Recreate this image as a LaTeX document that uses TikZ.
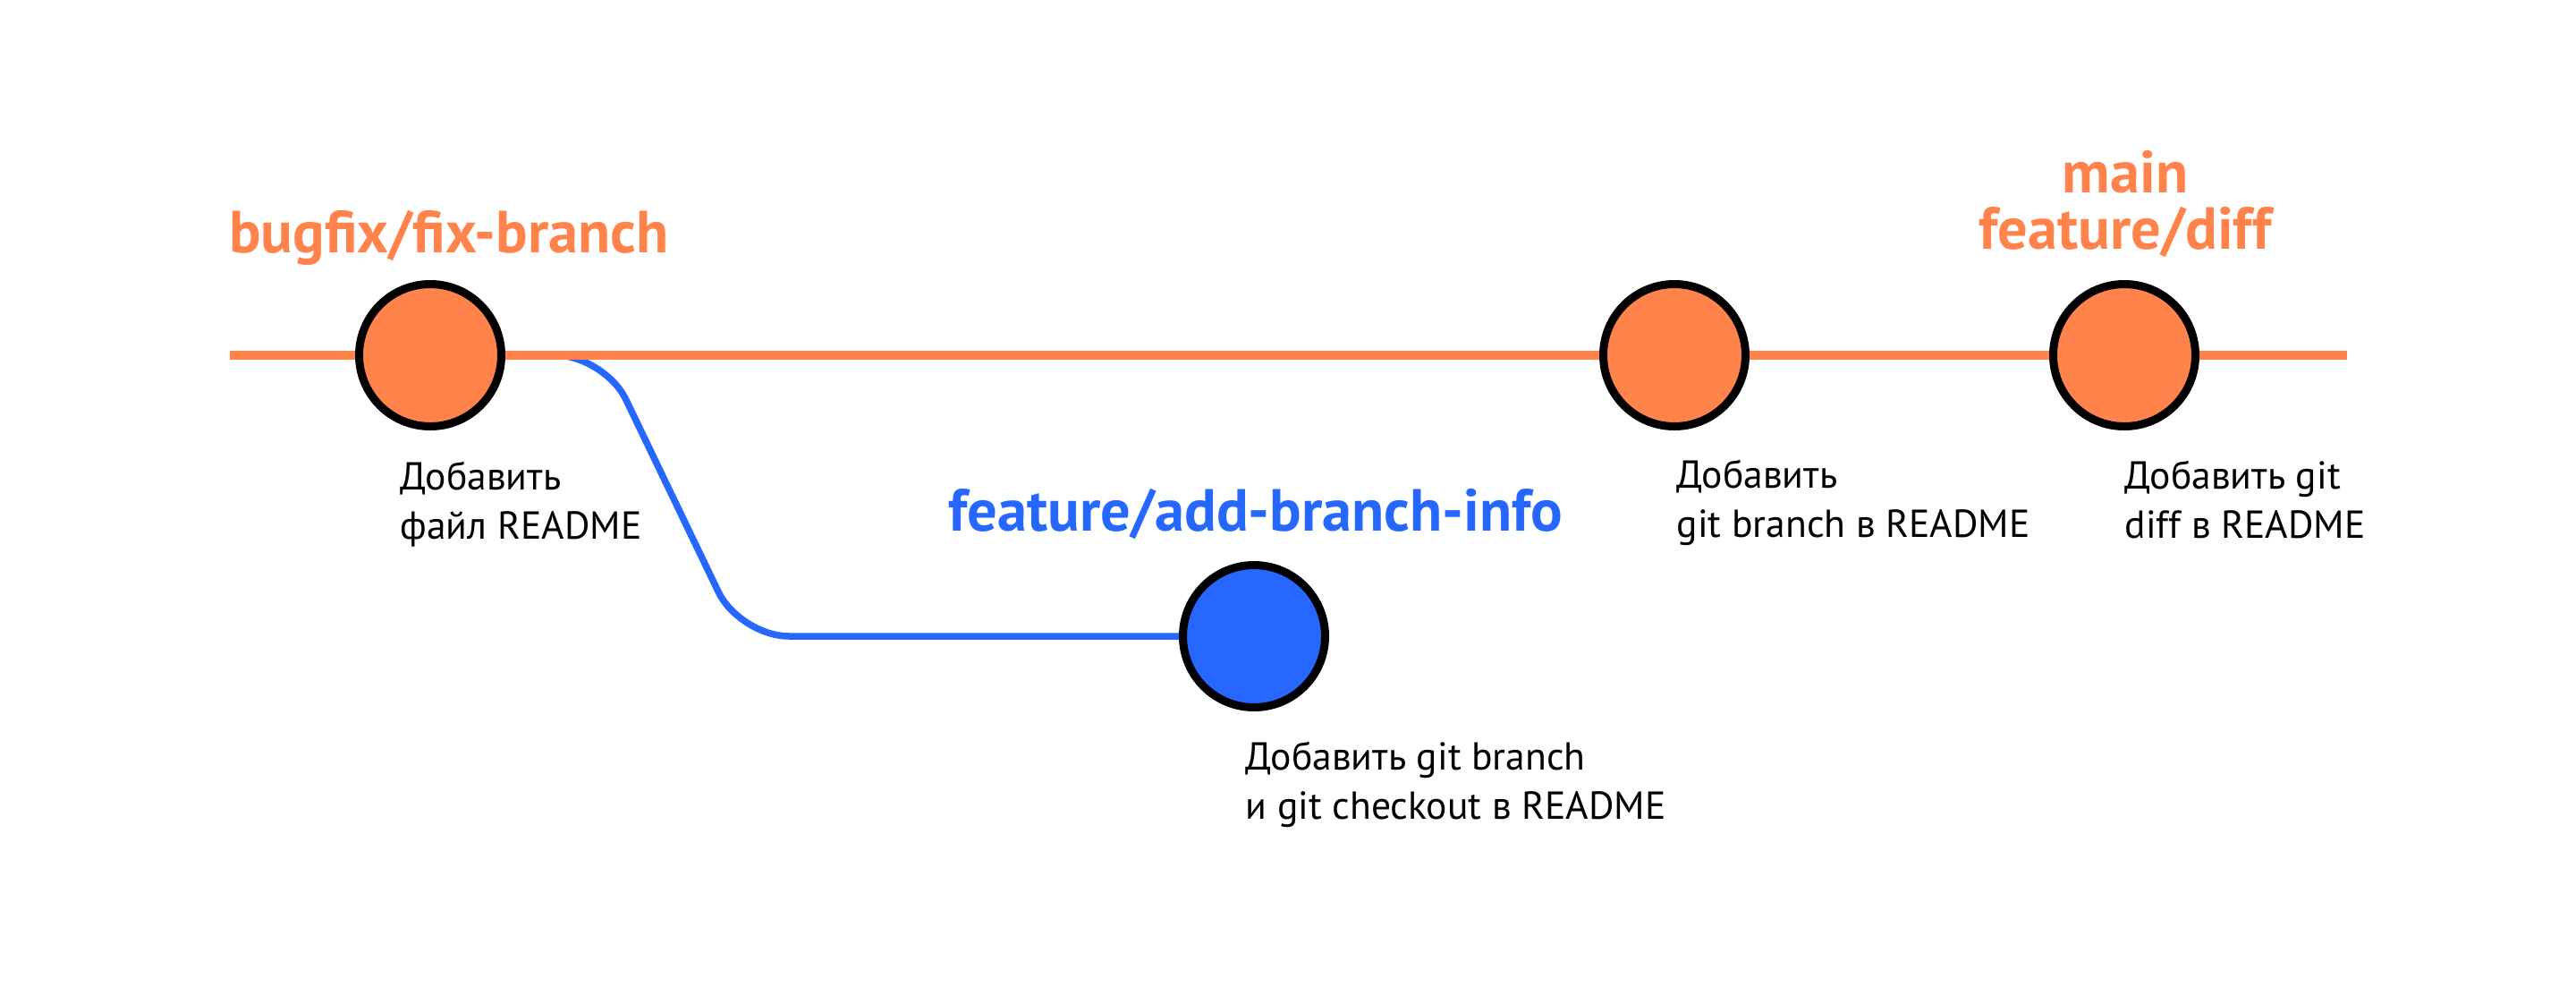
\documentclass[tikz,border=0pt]{standalone}
\usepackage{fontspec}
\setmainfont{PT Sans}
\usetikzlibrary{backgrounds}
\definecolor{gitorange}{RGB}{255,131,74}
\definecolor{gitblue}{RGB}{38,104,255}
\tikzset{
  commit/.style={circle, draw=black, line width=0.09cm, minimum size=1.59cm, inner sep=0pt},
  branchname/.style={font=\bfseries\fontsize{18.9}{17.9}\selectfont, align=center, anchor=base, inner sep=0pt},
  msg/.style={font=\fontsize{12.4}{15.6}\selectfont, align=left, anchor=base west, inner sep=0pt},
}
\begin{document}
\begin{tikzpicture}[x=1cm, y=1cm]
                \useasboundingbox (0,0) rectangle (28.8,-11.02);

                \node[commit, fill=gitorange] (c1) at (4.81,-3.97) {};
                \node[commit, fill=gitorange] (c2) at (18.72,-3.97) {};
                \node[commit, fill=gitorange] (c3) at (23.75,-3.97) {};
                \node[commit, fill=gitblue] (c4) at (14.02,-7.11) {};

                \coordinate (lstart) at (2.57,-3.97);
                \coordinate (lend) at (26.24,-3.97);
                \coordinate (k1) at (6.76,-3.97);
                \coordinate (k2) at (8.27,-7.11);

                \begin{scope}[on background layer]
                    \draw[gitblue, line width=0.075cm, rounded corners=0.55cm] (c1.center) -- (k1) -- (k2) -- (c4.center);
                    \draw[gitorange, line width=0.1cm] (lstart) -- (lend);
                \end{scope}

                \node[branchname, text=gitorange] (bfix) at (5.02,-2.82) {bugfix/fix-branch};
                \node[branchname, text=gitblue] (bfeat) at (14.04,-5.93) {feature/add-branch-info};
                \node[branchname, text=gitorange] (bmain) at (23.76,-2.78) {main\\feature/diff};

                % base anchor sits on the last line
                \node[msg] (m1) at (4.47,-6.02) {Добавить\\файл README};
                \node[msg] (m2) at (18.74,-6.00) {Добавить\\git branch в README};
                \node[msg] (m3) at (23.75,-6.01) {Добавить git\\diff в README};
                \node[msg] (m4) at (13.92,-9.15) {Добавить git branch\\и git checkout в README};
                
\end{tikzpicture}
\end{document}
